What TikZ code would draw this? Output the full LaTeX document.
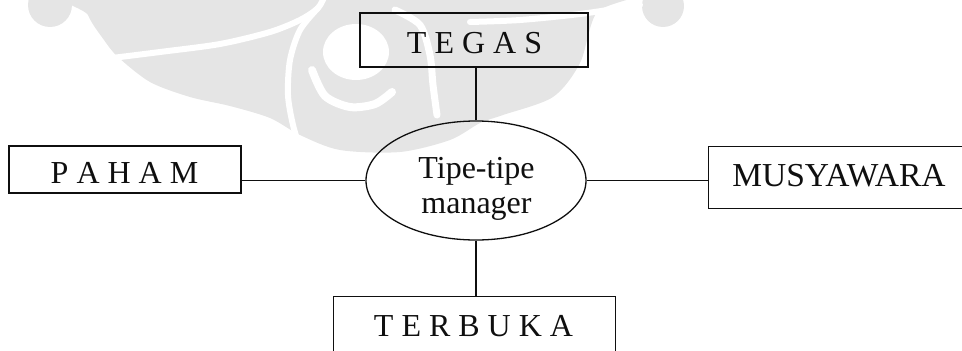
\documentclass[tikz,border=0pt]{standalone}
\usepackage{fontspec}
\setmainfont{Liberation Serif}
\usetikzlibrary{shapes.geometric}
\definecolor{wmgrey}{RGB}{229,229,229}
\definecolor{ink}{RGB}{15,15,15}
\begin{document}
\begin{tikzpicture}[x=1pt,y=-1pt,
  box/.style={draw=ink,line width=1.3pt,rectangle,inner sep=0pt},
  lbl/.style={anchor=base,inner sep=0pt,font=\fontsize{32}{36}\selectfont,text=ink},
  link/.style={draw=ink,line width=1.2pt},
  gap/.style={draw=white,line cap=round,line join=round}]
\useasboundingbox (0,0) rectangle (962,351);
\clip (0,0) rectangle (962,351);

% faint emblem in the background
\fill[wmgrey] (50,5) circle (22pt);
\fill[wmgrey] (663,6) circle (21pt);
\fill[wmgrey] plot[smooth cycle] coordinates {(80,-20) (88,15) (104,40) (118,57) (150,82) (190,97) (230,106) (270,118) (300,135) (340,150) (400,152) (450,140) (480,123) (503,115) (553,97) (580,63) (597,12) (640,-20)};
\draw[gap,line width=6pt] plot[smooth] coordinates {(112,58) (160,52) (220,44) (270,32) (300,20) (318,8) (325,-5)};
\draw[gap,line width=6pt] plot[smooth] coordinates {(318,8) (300,30) (290,60) (288,95) (293,125) (302,155)};
\fill[white] (356,52) ellipse [x radius=33pt, y radius=28pt];
\draw[gap,line width=8pt] plot[smooth] coordinates {(312,70) (325,96) (350,107) (375,104) (392,92)};
\draw[gap,line width=7pt] plot[smooth] coordinates {(395,10) (420,25) (430,55) (433,85) (437,115)};
\draw[gap,line width=6pt] plot[smooth] coordinates {(470,22) (520,20) (580,14) (640,5)};

% boxes
\node[box,minimum width=228pt,minimum height=54pt] (tegas) at (474,40) {};
\node[box,minimum width=232pt,minimum height=47pt] (paham) at (125,169.5) {};
\node[box,minimum width=270pt,minimum height=62pt,anchor=north west] (musy) at (708,146) {};
\node[box,minimum width=282pt,minimum height=80pt,anchor=north west] (terbuka) at (333,296) {};
\node[draw=ink,line width=1.3pt,ellipse,minimum width=220pt,minimum height=119pt,inner sep=0pt] (mgr) at (476,180.5) {};

% labels
\node[lbl] (tegas-t) at (474.5,53) {T E G A S};
\node[lbl] (paham-t) at (124.5,183) {P A H A M};
\node[lbl,font=\fontsize{33.5}{38}\selectfont] (musy-t) at (839,186) {MUSYAWARA};
\node[lbl] (terbuka-t) at (473.5,336) {T E R B U K A};
\node[lbl] (mgr-t1) at (476.5,178) {Tipe-tipe};
\node[lbl] (mgr-t2) at (476.5,213) {manager};

% connectors
\draw[link] (mgr.north) -- (tegas.south -| mgr.north);
\draw[link] (mgr.south) -- (terbuka.north -| mgr.south);
\draw[link] (mgr.west) -- (paham.east |- mgr.west);
\draw[link] (mgr.east) -- (musy.west |- mgr.east);
\end{tikzpicture}
\end{document}
